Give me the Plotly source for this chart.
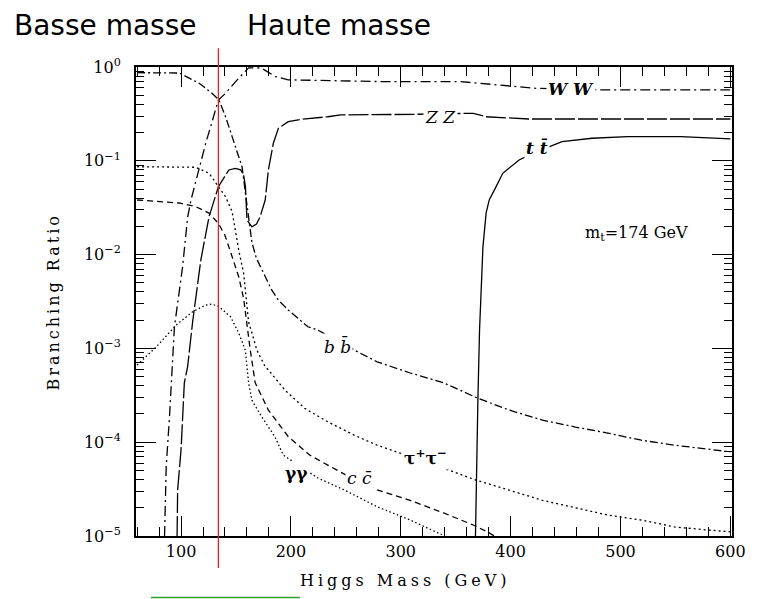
import math
import plotly.graph_objects as go

# ---------------- data (Higgs mass in GeV, branching ratio) ----------------
bb_m = [60, 98.5, 116.5, 128, 134.5, 140.5, 146.5, 151, 155.5, 160, 164.5, 168.5, 173.5, 182.5,
        188.5, 197.5, 215.5, 224.5, 263, 278.5, 308, 339, 368.5, 398.5, 429, 459, 488.5, 519, 549, 600]
bb_br = [0.87, 0.863, 0.67, 0.528, 0.445, 0.295, 0.181, 0.125, 0.0865, 0.034, 0.0135, 0.0092, 0.00685,
         0.0042, 0.00328, 0.00257, 0.0017, 0.00157, 8.9e-4, 7.2e-4, 5.5e-4, 4.3e-4, 3.0e-4, 2.2e-4,
         1.72e-4, 1.45e-4, 1.25e-4, 1.05e-4, 9.3e-5, 7.9e-5]

tau_m = [60, 98.5, 113.5, 125.5, 134, 140.5, 146.5, 152.5, 157, 161.5, 165, 169, 176.5, 179.5, 194.5,
         212.5, 233.5, 257.5, 278.5, 308, 338.5, 368.5, 398.5, 429, 459, 488.5, 519, 549, 578.5, 600]
tau_br = [0.0865, 0.086, 0.0853, 0.0736, 0.053, 0.0414, 0.0287, 0.0112, 0.0063, 0.0019, 0.0014, 9.6e-4,
          6.4e-4, 5.9e-4, 3.6e-4, 2.3e-4, 1.65e-4, 1.19e-4, 9.3e-5, 7.1e-5, 5.3e-5, 3.95e-5, 3.1e-5,
          2.4e-5, 2.0e-5, 1.67e-5, 1.48e-5, 1.25e-5, 1.16e-5, 1.11e-5]

cc_m = [60, 98.5, 113.5, 125.5, 134, 140, 144.5, 152.5, 157, 160, 163, 167.5, 179.5, 197.5, 217,
        233.5, 256, 278.5, 308.5, 339, 366, 380.5, 385]
cc_br = [0.0382, 0.0355, 0.0324, 0.0277, 0.0215, 0.016, 0.0112, 0.0058, 0.0034, 0.0018, 9.6e-4,
         4.3e-4, 2.2e-4, 1.15e-4, 7.3e-5, 5.7e-5, 4.1e-5, 3.1e-5, 2.4e-5, 1.76e-5, 1.31e-5, 1.08e-5, 1.0e-5]

gg_m = [60, 77.5, 95.5, 110.5, 122.5, 128, 134.5, 145, 152.5, 158.5, 161.5, 164.5, 173.5, 185.5,
        193, 224.5, 248.5, 278.5, 308.5, 339, 340]
gg_br = [6.65e-4, 1.04e-3, 1.77e-3, 2.46e-3, 2.9e-3, 2.97e-3, 2.79e-3, 2.18e-3, 1.46e-3, 9.6e-4,
         4.3e-4, 2.8e-4, 1.86e-4, 1.14e-4, 7.3e-5, 4.15e-5, 3.1e-5, 2.05e-5, 1.48e-5, 1.03e-5, 1.0e-5]

ww_m = [85, 86.5, 89.5, 92.4, 94, 101.4, 106, 109, 113.5, 122.5, 134, 140.5, 152.5, 161.5, 173,
        186, 197.5, 233.5, 278.5, 353.5, 405, 423, 486, 600]
ww_br = [1.0e-5, 5.5e-5, 1.87e-4, 9.6e-4, 1.7e-3, 7.4e-3, 0.025, 0.038, 0.06, 0.154, 0.445, 0.525,
         0.76, 0.98, 0.975, 0.79, 0.73, 0.714, 0.70, 0.70, 0.617, 0.593, 0.569, 0.569]

zz_m = [96.4, 96.9, 100, 103, 106, 107.5, 110.5, 118, 125.5, 134, 143.5, 149.5, 154.3, 157, 158.6,
        160, 164.5, 168.7, 172, 176.6, 179.5, 184, 188.6, 197.6, 209.5, 233.6, 245.3, 312, 366,
        377.7, 416.5, 600]
zz_br = [1.0e-5, 3.1e-5, 8.3e-5, 4.3e-4, 6.4e-4, 9.6e-4, 1.9e-3, 8.75e-3, 0.0254, 0.053, 0.0798,
         0.083, 0.080, 0.0706, 0.053, 0.0234, 0.0198, 0.0212, 0.0254, 0.0382, 0.0798, 0.154, 0.222,
         0.261, 0.277, 0.295, 0.308, 0.313, 0.321, 0.295, 0.279, 0.279]

tt_m = [368, 368.7, 370.2, 371.7, 374.1, 374.8, 377.7, 380.5, 386.8, 392.8, 407.7, 422.8, 446.8,
        458.8, 474, 506.5, 555, 600]
tt_br = [1.0e-5, 3.95e-5, 2.8e-4, 1.57e-3, 6.4e-3, 0.0121, 0.0278, 0.0382, 0.053, 0.0736, 0.102,
         0.124, 0.16, 0.167, 0.174, 0.181, 0.181, 0.171]

y_tick_vals = [1, 1e-1, 1e-2, 1e-3, 1e-4, 1e-5]
y_tick_text = ["10<sup>0</sup>", "10<sup>\u22121</sup>", "10<sup>\u22122</sup>",
               "10<sup>\u22123</sup>", "10<sup>\u22124</sup>", "10<sup>\u22125</sup>"]

mass_cut = 134  # red separator

# curve labels: (mass, BR, text, white background)
labels = [
    (455.0, 0.58, "<b><i>W W</i></b>", True),
    (336.5, 0.293, "<i>Z Z</i>", True),
    (424.0, 0.137, "<b><i>t t\u0304</i></b>", True),
    (514.7, 0.0166, "m<sub>t</sub>=174 GeV", False),
    (242.5, 1.06e-3, "<i>b b\u0304</i>", True),
    (322.5, 6.95e-5, "<b>\u03c4<sup>+</sup>\u03c4<sup>\u2212</sup></b>", True),
    (205.5, 4.7e-5, "<b>\u03b3\u03b3</b>", True),
    (262.0, 4.2e-5, "<i>c c\u0304</i>", True),
]

# ---------------- figure ----------------
serif = "DejaVu Serif"
fig = go.Figure()

curves = [
    (bb_m, bb_br, "8px,3px,2px,3px"),
    (tau_m, tau_br, "2px,3px"),
    (cc_m, cc_br, "6px,4px"),
    (gg_m, gg_br, "1.5px,2.5px"),
    (ww_m, ww_br, "10px,4px,2px,4px"),
    (zz_m, zz_br, "20px,3px"),
    (tt_m, tt_br, "solid"),
]
for m, br, dash in curves:
    fig.add_trace(go.Scatter(x=m, y=br, mode="lines",
                             line=dict(color="black", width=1.3, dash=dash),
                             hoverinfo="skip"))

ax_common = dict(showline=True, linewidth=2, linecolor="black", mirror="allticks",
                 ticks="inside", ticklen=20, tickwidth=1.3, tickcolor="black",
                 showgrid=False, zeroline=False,
                 tickfont=dict(family=serif, size=16, color="black"))

minor_y = []
for e in range(-5, 0):
    for d in range(2, 10):
        minor_y.append(d * 10 ** e)

fig.update_xaxes(range=[59, 601.5], tick0=0, dtick=100,
                 minor=dict(dtick=20, ticks="inside", ticklen=9, tickwidth=1.2, tickcolor="black"),
                 **ax_common)
fig.update_yaxes(type="log", range=[-5, 0], tickmode="array", tickvals=y_tick_vals,
                 ticktext=y_tick_text, ticklabelstandoff=10,
                 minor=dict(tickmode="array", tickvals=minor_y, ticks="inside", ticklen=8,
                            tickwidth=1.2, tickcolor="black"),
                 **ax_common)

for x, y, text, bg in labels:
    fig.add_annotation(x=x, y=math.log10(y), xref="x", yref="y", text=text, showarrow=False,
                       font=dict(family=serif, size=17 if bg else 16, color="black"),
                       bgcolor="white" if bg else None, borderpad=1)

# axis titles
fig.add_annotation(x=0.453, y=-0.094, xref="paper", yref="paper",
                   text="<span style='letter-spacing:4px'>Higgs Mass (GeV)</span>",
                   showarrow=False, yanchor="middle",
                   font=dict(family=serif, size=16, color="black"))
fig.add_annotation(x=-0.157, y=0.5, xref="paper", yref="paper",
                   text="<span style='letter-spacing:3px'>Branching Ratio</span>",
                   showarrow=False, textangle=-90,
                   font=dict(family=serif, size=16, color="black"))

# header texts
fig.add_annotation(x=-0.208, y=1.088, xref="paper", yref="paper", text="Basse masse",
                   showarrow=False, xanchor="left", yanchor="middle",
                   font=dict(family="DejaVu Sans", size=28, color="black"))
fig.add_annotation(x=0.183, y=1.088, xref="paper", yref="paper", text="Haute masse",
                   showarrow=False, xanchor="left", yanchor="middle",
                   font=dict(family="DejaVu Sans", size=28, color="black"))

# red separator line and green underline
fig.add_shape(type="line", xref="x", yref="paper", x0=mass_cut, x1=mass_cut, y0=-0.068, y1=1.04,
              line=dict(color="#e0201a", width=1.3))
fig.add_shape(type="line", xref="paper", yref="paper", x0=0.025, x1=0.275, y0=-0.131, y1=-0.131,
              line=dict(color="#2ca02c", width=1.5))

fig.update_layout(width=758, height=599, margin=dict(l=136, r=19, t=67, b=63),
                  paper_bgcolor="white", plot_bgcolor="white", showlegend=False)

fig.write_html("out.html")
